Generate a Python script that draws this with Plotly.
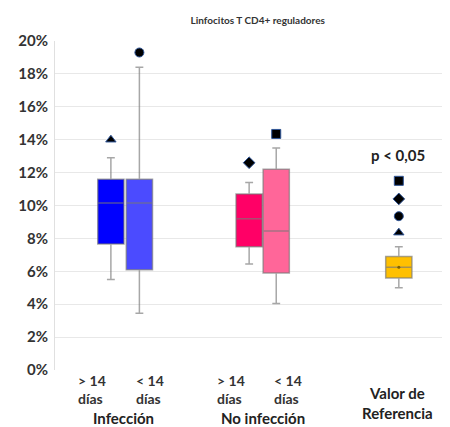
import plotly.graph_objects as go

# ---- data (fractions) ----
positions = [0.0, 1.0, 4.85, 5.8, 10.1]
q1 = [0.0766, 0.061, 0.075, 0.059, 0.056]
median = [0.1015, 0.1015, 0.092, 0.0845, 0.0625]
q3 = [0.116, 0.116, 0.107, 0.122, 0.069]
lower = [0.055, 0.0345, 0.0645, 0.0405, 0.050]
upper = [0.129, 0.184, 0.114, 0.135, 0.075]
fills = ["#0000FF", "#4B4BFF", "#FF0066", "#FF6699", "#FFC000"]

outlier_pos = [0.0, 1.0, 4.85, 5.8, 10.1, 10.1, 10.1, 10.1]
outlier_val = [0.140, 0.193, 0.126, 0.1435, 0.0835, 0.0935, 0.104, 0.115]
outlier_sym = ["triangle-up", "circle", "diamond", "square", "triangle-up", "circle", "diamond", "square"]

ref_mean = 0.0625
sub_labels = ["> 14<br>días", "< 14<br>días", "> 14<br>días", "< 14<br>días"]
sub_label_pos = [-0.67, 1.37, 4.21, 6.21]
group_labels = ["Infección", "No infección", "Valor de<br>Referencia"]
group_pos = [0.46, 5.33, 10.07]
y_ticks = [i / 100 for i in range(0, 21, 2)]
y_ticktext = [f"{i}%" for i in range(0, 21, 2)]

fig = go.Figure()
for i in range(len(positions)):
    fig.add_trace(go.Box(
        x=[positions[i]], q1=[q1[i]], median=[median[i]], q3=[q3[i]],
        lowerfence=[lower[i]], upperfence=[upper[i]],
        width=0.92, whiskerwidth=0.3,
        fillcolor=fills[i],
        line=dict(color="rgba(120,120,120,0.65)", width=1.5),
        boxpoints=False, showlegend=False, hoverinfo="skip",
    ))

fig.add_trace(go.Scatter(
    x=outlier_pos, y=outlier_val, mode="markers",
    marker=dict(symbol=outlier_sym, size=9, color="black",
                line=dict(color="#2F5597", width=1)),
    showlegend=False,
))
fig.add_trace(go.Scatter(
    x=[positions[-1]], y=[ref_mean], mode="markers",
    marker=dict(symbol="circle", size=3, color="#7F6000"),
    showlegend=False,
))

lab_font = dict(family="Lato", size=14, color="#333333")
grp_font = dict(family="Lato", size=15, color="#222222")
annotations = []
for p, g in zip(sub_label_pos, sub_labels):
    annotations.append(dict(x=p, y=0, xref="x", yref="paper", yshift=-19, text="<b>" + g + "</b>",
                            showarrow=False, yanchor="middle", align="left", font=lab_font))
annotations.append(dict(x=group_pos[0], y=0, xref="x", yref="paper", yshift=-48,
                        text="<b>" + group_labels[0] + "</b>", showarrow=False, yanchor="middle",
                        font=grp_font))
annotations.append(dict(x=group_pos[1], y=0, xref="x", yref="paper", yshift=-48,
                        text="<b>" + group_labels[1] + "</b>", showarrow=False, yanchor="middle",
                        font=grp_font))
annotations.append(dict(x=group_pos[2], y=0, xref="x", yref="paper", yshift=-33,
                        text="<b>" + group_labels[2] + "</b>", showarrow=False, yanchor="middle",
                        font=grp_font))
annotations.append(dict(x=10.07, y=0.131, xref="x", yref="y", text="<b>p < 0,05</b>",
                        showarrow=False, font=grp_font))

# page body has an 8px margin: figure is shifted by 8px right/down
fig.update_layout(
    width=442, height=419,
    margin=dict(l=47, r=5, t=33, b=57),
    paper_bgcolor="white", plot_bgcolor="white",
    title=dict(text="<b>Linfocitos T CD4+ reguladores</b>", x=0.565, y=0.97,
               xanchor="center", yanchor="middle",
               font=dict(family="Lato", size=10, color="#333333")),
    xaxis=dict(range=[-1.96, 11.72], showticklabels=False, showgrid=False,
               zeroline=False, showline=False),
    yaxis=dict(range=[0, 0.2], tickvals=y_ticks, ticktext=["<b>" + t + "</b>" for t in y_ticktext],
               showgrid=True, gridcolor="#E8E8E8", zeroline=False,
               showline=True, linecolor="#E0E0E0",
               tickfont=dict(family="Lato", size=15, color="#333333"),
               ticklabelstandoff=3),
    annotations=annotations,
    font=dict(family="Lato"),
)
fig.write_html("out.html")
